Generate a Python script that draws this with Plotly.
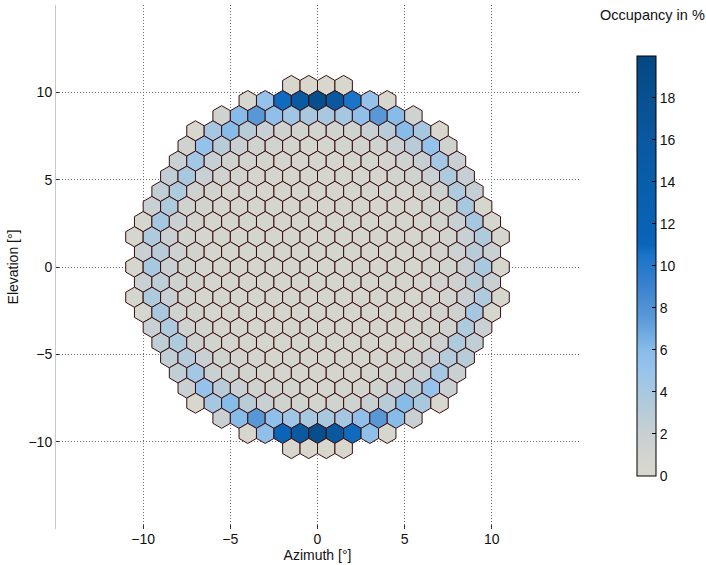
import math
import plotly.graph_objects as go
from plotly.colors import sample_colorscale

# ---------------- data ----------------
# camera pixel rows, top (row 12) to bottom (row -12); pixel pitch = 1 deg
ROW_IDS = [12, 11, 10, 9, 8, 7, 6, 5, 4, 3, 2, 1, 0,
           -1, -2, -3, -4, -5, -6, -7, -8, -9, -10, -11, -12]

# occupancy in % for each pixel of each row (left -> right)
OCC = [
    [0.3, 0.3, 0.3, 0.3],
    [0.5, 5.2, 10.8, 15.5, 18.5, 16.0, 10.5, 5.2, 0.5],
    [1.2, 6.0, 7.6, 5.5, 4.5, 4.0, 4.0, 4.2, 5.5, 7.6, 6.0, 1.2],
    [0.3, 4.2, 6.0, 3.0, 2.0, 1.3, 1.1, 0.9, 1.1, 1.3, 2.0, 3.0, 6.0, 4.2, 0.3],
    [1.3, 5.2, 3.0, 2.0, 1.2, 1.0, 0.9, 0.8, 0.8, 0.9, 1.0, 1.2, 2.0, 3.0, 5.2, 1.3],
    [2.0, 4.3, 2.1, 1.3, 1.0, 0.9, 0.8, 0.8, 0.8, 0.8, 0.8, 0.9, 1.0, 1.3, 2.1, 4.3, 2.0],
    [2.4, 4.0, 2.0, 1.2, 1.0, 0.8, 0.8, 0.7, 0.7, 0.7, 0.7, 0.8, 0.8, 1.0, 1.2, 2.0, 3.6, 2.2],
    [2.5, 3.6, 1.4, 1.0, 0.8, 0.8, 0.7, 0.7, 0.7, 0.7, 0.7, 0.7, 0.7, 0.8, 0.8, 1.0, 1.4, 3.6, 2.3],
    [2.0, 3.6, 1.3, 1.0, 0.8, 0.7, 0.7, 0.7, 0.7, 0.7, 0.7, 0.7, 0.7, 0.7, 0.7, 0.8, 1.0, 1.3, 4.0, 0.6],
    [0.5, 4.2, 2.0, 1.0, 0.8, 0.7, 0.7, 0.7, 0.7, 0.7, 0.7, 0.7, 0.7, 0.7, 0.7, 0.7, 0.8, 1.0, 2.0, 4.2, 0.5],
    [0.6, 3.6, 2.0, 1.1, 0.8, 0.7, 0.7, 0.7, 0.7, 0.7, 0.7, 0.7, 0.7, 0.7, 0.7, 0.7, 0.7, 0.8, 1.1, 2.0, 3.6, 0.5],
    [2.0, 3.0, 1.5, 1.0, 0.8, 0.7, 0.7, 0.7, 0.7, 0.7, 0.7, 0.7, 0.7, 0.7, 0.7, 0.7, 0.8, 1.0, 1.5, 3.0, 2.0],
    [0.5, 4.0, 2.0, 1.1, 0.8, 0.7, 0.7, 0.7, 0.7, 0.7, 0.7, 0.7, 0.7, 0.7, 0.7, 0.7, 0.7, 0.8, 1.1, 2.0, 4.0, 0.5],
    [2.0, 2.6, 1.4, 1.0, 0.8, 0.7, 0.7, 0.7, 0.7, 0.7, 0.7, 0.7, 0.7, 0.7, 0.7, 0.7, 0.8, 1.0, 1.4, 3.0, 2.0],
    [0.5, 3.6, 2.0, 1.1, 0.8, 0.7, 0.7, 0.7, 0.7, 0.7, 0.7, 0.7, 0.7, 0.7, 0.7, 0.7, 0.7, 0.8, 1.1, 2.0, 3.6, 0.5],
    [0.5, 4.0, 1.3, 1.0, 0.8, 0.7, 0.7, 0.7, 0.7, 0.7, 0.7, 0.7, 0.7, 0.7, 0.7, 0.7, 0.8, 1.0, 1.4, 4.2, 0.5],
    [2.0, 3.6, 1.3, 1.0, 0.8, 0.7, 0.7, 0.7, 0.7, 0.7, 0.7, 0.7, 0.7, 0.7, 0.7, 0.8, 1.0, 1.3, 3.6, 2.0],
    [2.5, 3.6, 1.4, 1.0, 0.8, 0.7, 0.7, 0.7, 0.7, 0.7, 0.7, 0.7, 0.7, 0.7, 0.8, 1.0, 1.4, 3.6, 2.5],
    [2.5, 3.3, 2.0, 1.2, 1.0, 0.8, 0.7, 0.7, 0.7, 0.7, 0.7, 0.7, 0.8, 1.0, 1.2, 2.0, 3.3, 3.0],
    [2.5, 4.3, 2.0, 1.3, 1.0, 0.9, 0.8, 0.8, 0.8, 0.8, 0.8, 0.9, 1.0, 1.3, 2.0, 4.2, 2.0],
    [2.0, 5.2, 3.0, 2.0, 1.2, 1.0, 0.9, 0.8, 0.8, 0.9, 1.0, 1.2, 2.0, 3.0, 5.2, 2.0],
    [0.3, 4.2, 6.0, 3.0, 2.0, 1.3, 1.1, 0.9, 1.1, 1.3, 2.0, 3.0, 6.0, 4.0, 0.3],
    [2.0, 6.0, 7.6, 5.5, 4.5, 4.0, 4.0, 4.2, 5.5, 7.6, 6.0, 2.0],
    [0.5, 5.5, 11.0, 15.5, 18.5, 16.0, 10.8, 5.5, 0.5],
    [0.3, 0.3, 0.3, 0.3],
]

CMIN, CMAX = 0, 20
CB_TICKS = [0, 2, 4, 6, 8, 10, 12, 14, 16, 18]
AXIS_TICKS = [-10, -5, 0, 5, 10]

# colour map anchors (value, colour)
CMAP_VALUES = [0, 1, 2, 3, 4, 5, 6, 7.5, 9, 10.5, 11, 14, 16, 18, 20]
CMAP_COLORS = ["#dad8cc", "#d1d4ce", "#c8d0d4", "#b8ccd8", "#a8c8e0", "#98c4ec",
               "#88bce8", "#5a9ad8", "#3c82cd", "#1a74c8", "#0a64b8", "#085eaa",
               "#0a58a0", "#085090", "#044882"]

# ---------------- figure ----------------
colorscale = [[(v - CMIN) / (CMAX - CMIN), c] for v, c in zip(CMAP_VALUES, CMAP_COLORS)]

PITCH = 1.0
ROW_STEP = PITCH * math.sqrt(3) / 2
RAD = PITCH / math.sqrt(3)
ANG = [90, 150, 210, 270, 330, 30, 90]

fig = go.Figure()
for r, vals in zip(ROW_IDS, OCC):
    n = len(vals)
    yc = r * ROW_STEP
    for i, v in enumerate(vals):
        xc = (i - (n - 1) / 2) * PITCH
        xs = [xc + RAD * math.cos(math.radians(a)) for a in ANG]
        ys = [yc + RAD * math.sin(math.radians(a)) for a in ANG]
        col = sample_colorscale(colorscale, [(v - CMIN) / (CMAX - CMIN)])[0]
        fig.add_trace(go.Scatter(
            x=xs, y=ys, mode="lines", fill="toself", fillcolor=col,
            line=dict(color="#3a0c0c", width=1), showlegend=False,
            hoverinfo="text", text=f"{v:.1f} %"))

# colour bar carrier
fig.add_trace(go.Scatter(
    x=[None], y=[None], mode="markers", showlegend=False,
    marker=dict(color=[CMIN], cmin=CMIN, cmax=CMAX, colorscale=colorscale,
                showscale=True,
                colorbar=dict(x=1.111, xanchor="left", y=0.903, yanchor="top",
                              len=0.802, lenmode="fraction", thickness=19,
                              thicknessmode="pixels", outlinecolor="#000",
                              outlinewidth=1, tickvals=CB_TICKS, ticks="inside",
                              ticklen=4, tickcolor="#000",
                              tickfont=dict(size=14, color="#111"),
                              xpad=0, ypad=0))))

fig.add_annotation(text="Occupancy in %", xref="paper", yref="paper",
                   x=1.14, y=0.98, xanchor="center", yanchor="middle",
                   showarrow=False, font=dict(size=14.5, color="#111"))

fig.update_layout(
    width=706, height=565,
    margin=dict(l=56, r=127, t=5, b=36),
    plot_bgcolor="white", paper_bgcolor="white",
    font=dict(family="Liberation Sans, Arial, sans-serif", size=14, color="#111"),
    xaxis=dict(range=[-15, 15], tickvals=AXIS_TICKS, showgrid=True,
               gridcolor="#707070", griddash="1px,2px", gridwidth=1, zeroline=False,
               showline=False, ticks="inside", ticklen=4, tickcolor="#333",
               tickfont=dict(size=14),
               title=dict(text="Azimuth [°]", standoff=1, font=dict(size=14))),
    yaxis=dict(range=[-15, 15], tickvals=AXIS_TICKS, showgrid=True,
               gridcolor="#707070", griddash="1px,2px", gridwidth=1, zeroline=False,
               showline=True, linecolor="#c8c8c8", linewidth=1,
               ticks="inside", ticklen=3, tickcolor="#333",
               tickfont=dict(size=14),
               title=dict(text="Elevation [°]", standoff=6, font=dict(size=14))),
)

fig.write_html("out.html")
